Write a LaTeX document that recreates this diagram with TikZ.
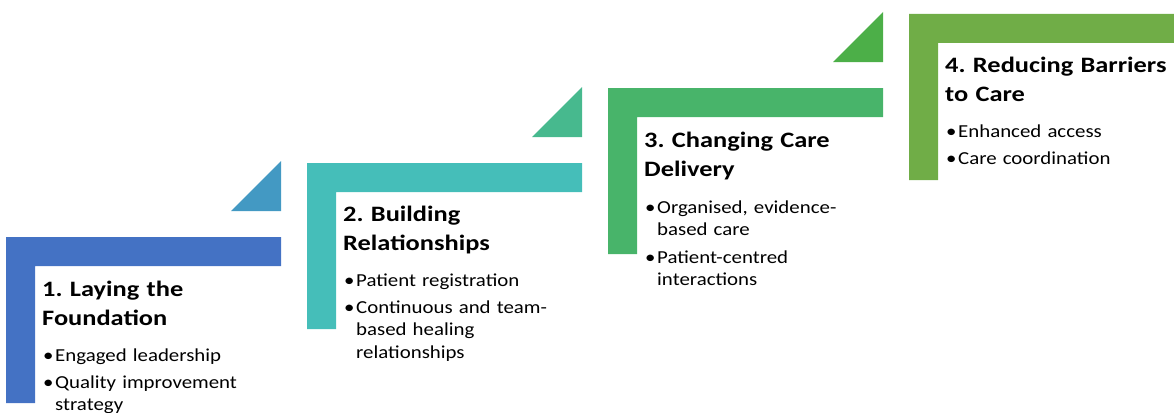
\documentclass[tikz,border=0pt]{standalone}
\usepackage{fontspec}
\setmainfont{Carlito}[FakeStretch=1.14,BoldFeatures={FakeStretch=1.2}]
\usepackage{tikz}

\definecolor{stepone}{HTML}{4472C4}
\definecolor{steptwo}{HTML}{45BEB9}
\definecolor{stepthree}{HTML}{48B46A}
\definecolor{stepfour}{HTML}{70AD47}
\definecolor{trione}{HTML}{4399C3}
\definecolor{tritwo}{HTML}{47B98E}
\definecolor{trithree}{HTML}{4CAF48}

\newcommand{\stepitem}[1]{\hangindent=12pt\makebox[12pt][l]{\textbullet}#1\par}
\frenchspacing

\begin{document}
\begin{tikzpicture}
        [x=1pt,y=-1pt,
         title/.style={anchor=base west,inner sep=0pt,text width=250pt,align=left,
                       font=\fontsize{22}{29}\selectfont\bfseries},
         item/.style={anchor=base west,inner sep=0pt,text width=230pt,align=left,
                      font=\fontsize{18.3}{22.5}\selectfont}]
        \useasboundingbox (0,0) rectangle (1174,412);

        % the four steps
        \foreach \x/\y/\col in {6/237/stepone, 307/163/steptwo, 608/88/stepthree, 909/14/stepfour}
            \fill[\col] (\x,\y) -- ++(275,0) -- ++(0,29) -- ++(-246,0) -- ++(0,137) -- ++(-29,0) -- cycle;

        % small triangles leading up
        \foreach \x/\y/\col in {6/237/trione, 307/163/tritwo, 608/88/trithree}
            \fill[\col] (\x+225,\y-26) -- (\x+275,\y-26) -- (\x+275,\y-76) -- cycle;

        \node[title] (t1) at (42, 296) {1. Laying the\\Foundation};
        \node[item] (i1a) at (43, 361) {\stepitem{Engaged leadership}};
        \node[item] (i1b) at (43, 388) {\stepitem{Quality improvement\newline strategy}};

        \node[title] (t2) at (343, 221) {2. Building\\Relationships};
        \node[item] (i2a) at (344, 286) {\stepitem{Patient registration}};
        \node[item] (i2b) at (344, 313) {\stepitem{Continuous and team-\newline based healing\newline relationships}};

        \node[title] (t3) at (644, 147) {3. Changing Care\\Delivery};
        \node[item] (i3a) at (645, 213) {\stepitem{Organised, evidence-\newline based care}};
        \node[item] (i3b) at (645, 263) {\stepitem{Patient-centred\newline interactions}};

        \node[title] (t4) at (945, 72) {4. Reducing Barriers\\to Care};
        \node[item] (i4a) at (946, 137) {\stepitem{Enhanced access}};
        \node[item] (i4b) at (946, 164) {\stepitem{Care coordination}};

      \end{tikzpicture}
\end{document}
